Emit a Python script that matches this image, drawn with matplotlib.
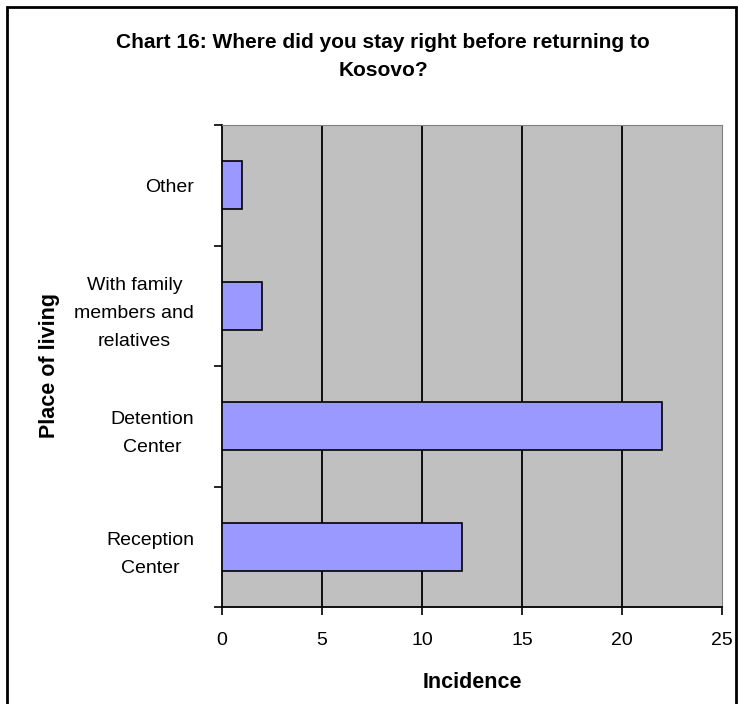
import matplotlib.pyplot as plt
from matplotlib.patches import Rectangle

categories = ["Reception\nCenter", "Detention\nCenter", "With family\nmembers and\nrelatives", "Other"]
values = [12, 22, 2, 1]
xticks = [0, 5, 10, 15, 20, 25]

plt.rcParams['font.family'] = ['Liberation Sans', 'DejaVu Sans']

fig = plt.figure(figsize=(7.38, 7.04), dpi=100)
ax = fig.add_axes([222 / 738, 97 / 704, 500 / 738, 482 / 704])
ax.set_facecolor('#C0C0C0')

pos = list(range(len(categories)))
ax.barh(pos, values, height=0.4, color='#9999FF', edgecolor='black', linewidth=1.2, zorder=3)

ax.set_xlim(0, 25)
ax.set_ylim(-0.5, len(categories) - 0.5)
ax.set_xticks(xticks)
ax.set_xticklabels([str(t) for t in xticks], fontsize=14)
for t in xticks[1:-1]:
    ax.axvline(t, color='black', linewidth=1.3, zorder=2)

# ticks sit between the categories, labels at the centres
ax.set_yticks([p - 0.5 for p in pos] + [len(categories) - 0.5])
ax.set_yticklabels([])
ax.set_yticks(pos, minor=True)
ax.set_yticklabels(categories, minor=True, fontsize=14, multialignment='center', linespacing=1.85)
ax.tick_params(axis='y', which='minor', length=0, pad=20)
ax.tick_params(axis='y', which='major', length=6, width=1.2, direction='out')
ax.tick_params(axis='x', length=6, width=1.2, direction='out', pad=12)

ax.spines['left'].set_linewidth(1.3)
ax.spines['bottom'].set_linewidth(1.3)
ax.spines['top'].set_color('#808080')
ax.spines['right'].set_color('#808080')

ax.set_xlabel('Incidence', fontsize=15.5, fontweight='bold', va='center')
ax.xaxis.set_label_coords(0.5, -75 / 482)
ax.set_ylabel('Place of living', fontsize=15.5, fontweight='bold', va='center', ha='center')
ax.yaxis.set_label_coords(-172 / 500, 0.5)

fig.text(383 / 738, 1 - 57 / 704, 'Chart 16: Where did you stay right before returning to\nKosovo?',
         ha='center', va='center', fontsize=15, fontweight='bold', linespacing=1.6)

fig.patches.append(Rectangle((7 / 738, -0.01), 729 / 738, 1 - 7 / 704 + 0.01,
                             transform=fig.transFigure, fill=False,
                             edgecolor='black', linewidth=2))

fig.savefig('out.png', dpi=100)
